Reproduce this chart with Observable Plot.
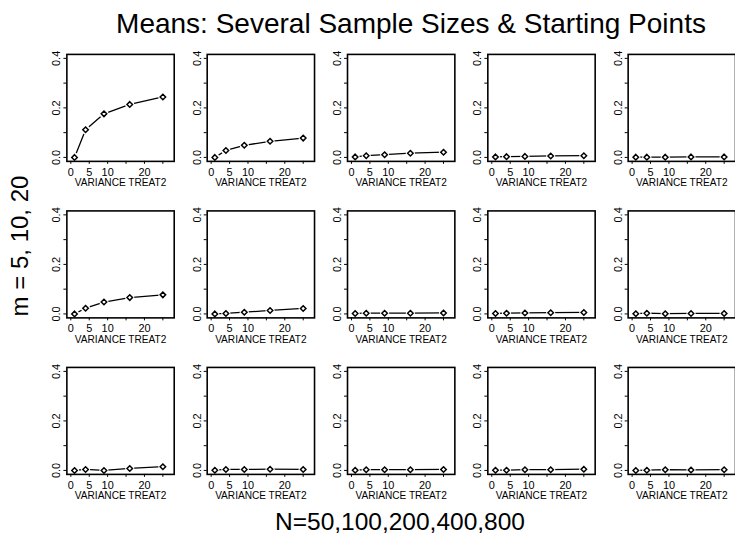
<!DOCTYPE html>
<html>
<head>
<meta charset="utf-8">
<script src="https://cdn.jsdelivr.net/npm/d3@7"></script>
<script src="https://cdn.jsdelivr.net/npm/@observablehq/plot@0.6"></script>
<style>
  html, body { margin: 0; padding: 0; background: white; overflow: hidden; }
  #wrap { position: relative; width: 735px; height: 535px; overflow: hidden; background: white;
          font-family: "Liberation Sans", Arial, Helvetica, sans-serif; color: black; }
  #title { position: absolute; left: 0; width: 822px; top: 10px; text-align: center;
           font-size: 28px; line-height: 1; white-space: nowrap; }
  #chart { position: absolute; left: 0; top: 44px; }
  #xlab { position: absolute; left: 0; width: 800px; top: 510px; text-align: center;
          font-size: 24.5px; line-height: 1; white-space: nowrap; }
  #ylab { position: absolute; left: 20px; top: 246px; font-size: 24px; line-height: 1; white-space: nowrap;
          transform: translate(-50%, -50%) rotate(-90deg); }
</style>
</head>
<body>
<div id="wrap">
  <div id="chart"></div>
  <div id="title">Means: Several Sample Sizes &amp; Starting Points</div>
  <div id="xlab">N=50,100,200,400,800</div>
  <div id="ylab">m = 5, 10, 20</div>
</div>
<script>
// Panels: columns = sample size N, rows = m
const sampleSizes = [50, 100, 200, 400, 800];
const mValues = [5, 10, 20];
const varianceTreat2 = [1, 4, 9, 16, 25];

// Means per panel, one array per N (columns), for each m (rows)
const meansM5 = [
  [0.000, 0.112, 0.176, 0.214, 0.244],
  [0.000, 0.028, 0.049, 0.065, 0.078],
  [0.002, 0.007, 0.011, 0.017, 0.021],
  [0.002, 0.003, 0.004, 0.006, 0.007],
  [0.001, 0.001, 0.001, 0.002, 0.002]
];
const meansM10 = [
  [0.000, 0.023, 0.048, 0.066, 0.077],
  [0.000, 0.002, 0.007, 0.014, 0.022],
  [0.002, 0.003, 0.003, 0.003, 0.004],
  [0.002, 0.003, 0.004, 0.005, 0.006],
  [0.001, 0.003, 0.001, 0.002, 0.002]
];
const meansM20 = [
  [0.000, 0.004, 0.000, 0.008, 0.015],
  [0.001, 0.004, 0.004, 0.005, 0.004],
  [0.001, 0.003, 0.003, 0.003, 0.004],
  [0.001, 0.001, 0.003, 0.003, 0.005],
  [0.000, 0.001, 0.003, 0.002, 0.003]
];

const xTicks = [0, 5, 10, 15, 20, 25];
const xTickLabels = [0, 5, 10, 20];
const yTicks = [0, 0.1, 0.2, 0.3, 0.4];
const yTickLabels = [0, 0.2, 0.4];
const xAxisTitle = "VARIANCE TREAT2";

const allMeans = [meansM5, meansM10, meansM20];
const data = [];
mValues.forEach((m, i) => {
  sampleSizes.forEach((N, j) => {
    varianceTreat2.forEach((v, k) => {
      data.push({m, N, v, mean: allMeans[i][j][k]});
    });
  });
});

const chart = Plot.plot({
  width: 742,
  height: 468,
  marginLeft: 67,
  marginRight: 0,
  marginTop: 10,
  marginBottom: 34,
  style: {fontFamily: '"Liberation Sans", Arial, Helvetica, sans-serif', fontSize: "11px", color: "black", background: "white", overflow: "visible"},
  fx: {domain: sampleSizes, axis: null, paddingInner: 0.235, paddingOuter: 0, round: false},
  fy: {domain: mValues, axis: null, paddingInner: 0.3165, paddingOuter: 0, round: false},
  x: {domain: [-1.08, 28.08]},
  y: {domain: [-0.016, 0.416]},
  marks: [
    Plot.line(data, {x: "v", y: "mean", fx: "N", fy: "m", stroke: "black", strokeWidth: 1.3}),
    Plot.dot(data, {x: "v", y: "mean", fx: "N", fy: "m", r: 4.6, fill: "white", stroke: "none"}),
    Plot.frame({stroke: "black", strokeWidth: 1.6}),
    Plot.axisX({
      ticks: xTicks, tickSize: 3, tickPadding: 3.5, facetAnchor: null, label: null, fontSize: 11,
      tickFormat: d => xTickLabels.includes(d) ? String(d) : ""
    }),
    Plot.axisY({
      ticks: yTicks, tickSize: 3, tickPadding: 3.5, tickRotate: -90, facetAnchor: null, label: null, fontSize: 11,
      tickFormat: d => yTickLabels.some(t => Math.abs(t - d) < 1e-9) ? d.toFixed(1) : ""
    }),
    Plot.text([xAxisTitle], {frameAnchor: "bottom", dy: 25, text: d => d, fontSize: 10.2}),
    Plot.dot(data, {x: "v", y: "mean", fx: "N", fy: "m", symbol: "diamond2", r: 2.5, fill: "white", stroke: "black", strokeWidth: 1.5})
  ]
});
document.getElementById("chart").appendChild(chart);
</script>
</body>
</html>
